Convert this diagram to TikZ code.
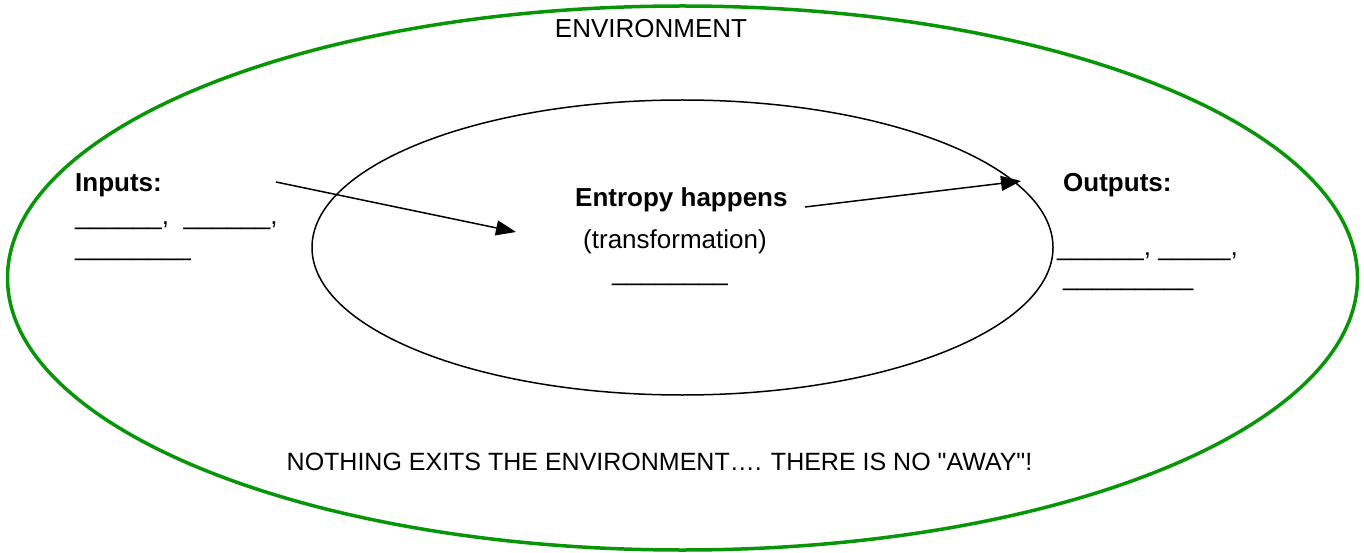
\documentclass[tikz,border=0pt]{standalone}
\usepackage{fontspec}
\setmainfont{Liberation Sans}[Ligatures=TeXOff]
\usetikzlibrary{arrows.meta}
\definecolor{envgreen}{RGB}{8,150,8}
\begin{document}
\begin{tikzpicture}[x=1pt,y=-1pt,
  txt/.style={inner sep=0pt,font=\fontsize{26}{31}\selectfont},
  btxt/.style={txt,font=\fontsize{26}{31}\selectfont\bfseries},
  flow/.style={line width=1.5pt,-{Triangle[length=20pt,width=15pt]}}]
\useasboundingbox (0,0) rectangle (1364,553);
% ellipses
\draw[envgreen,line width=3.5pt] (682.5,278) ellipse [x radius=675,y radius=272];
\draw[black,line width=1.5pt] (682.5,247.5) ellipse [x radius=370.5,y radius=147.5];
% texts
\node[txt,anchor=base] (env) at (651,38) {ENVIRONMENT};
\node[btxt,anchor=base west] (inputs) at (75,192) {Inputs:};
\node[txt,anchor=base west] (in1) at (75,225) {\_\_\_\_\_\_,\ \ \_\_\_\_\_\_,};
\node[txt,anchor=base west] (in2) at (75,255) {\_\_\_\_\_\_\_\_};
\node[btxt,anchor=base west] (entropy) at (575,207) {Entropy happens};
\node[txt,anchor=base west] (trans) at (583,248) {(transformation)};
\node[txt,anchor=base west] (mid) at (612,280) {\_\_\_\_\_\_\_\_};
\node[btxt,anchor=base west] (outputs) at (1063,192) {Outputs:};
\node[txt,anchor=base west] (out1) at (1057,255) {\_\_\_\_\_\_, \_\_\_\_\_,};
\node[txt,anchor=base west] (out2) at (1063,285) {\_\_\_\_\_\_\_\_\_};
\node[txt,anchor=base,font=\fontsize{25}{30}\selectfont] (away) at (659.5,470) {NOTHING EXITS THE ENVIRONMENT…. THERE IS NO "AWAY"!};
% arrows
\coordinate (a1s) at (276,182);
\coordinate (a1e) at (516,232);
\coordinate (a2s) at (805,207);
\coordinate (a2e) at (1021,181);
\draw[flow] (a1s) -- (a1e);
\draw[flow] (a2s) -- (a2e);
\end{tikzpicture}
\end{document}
